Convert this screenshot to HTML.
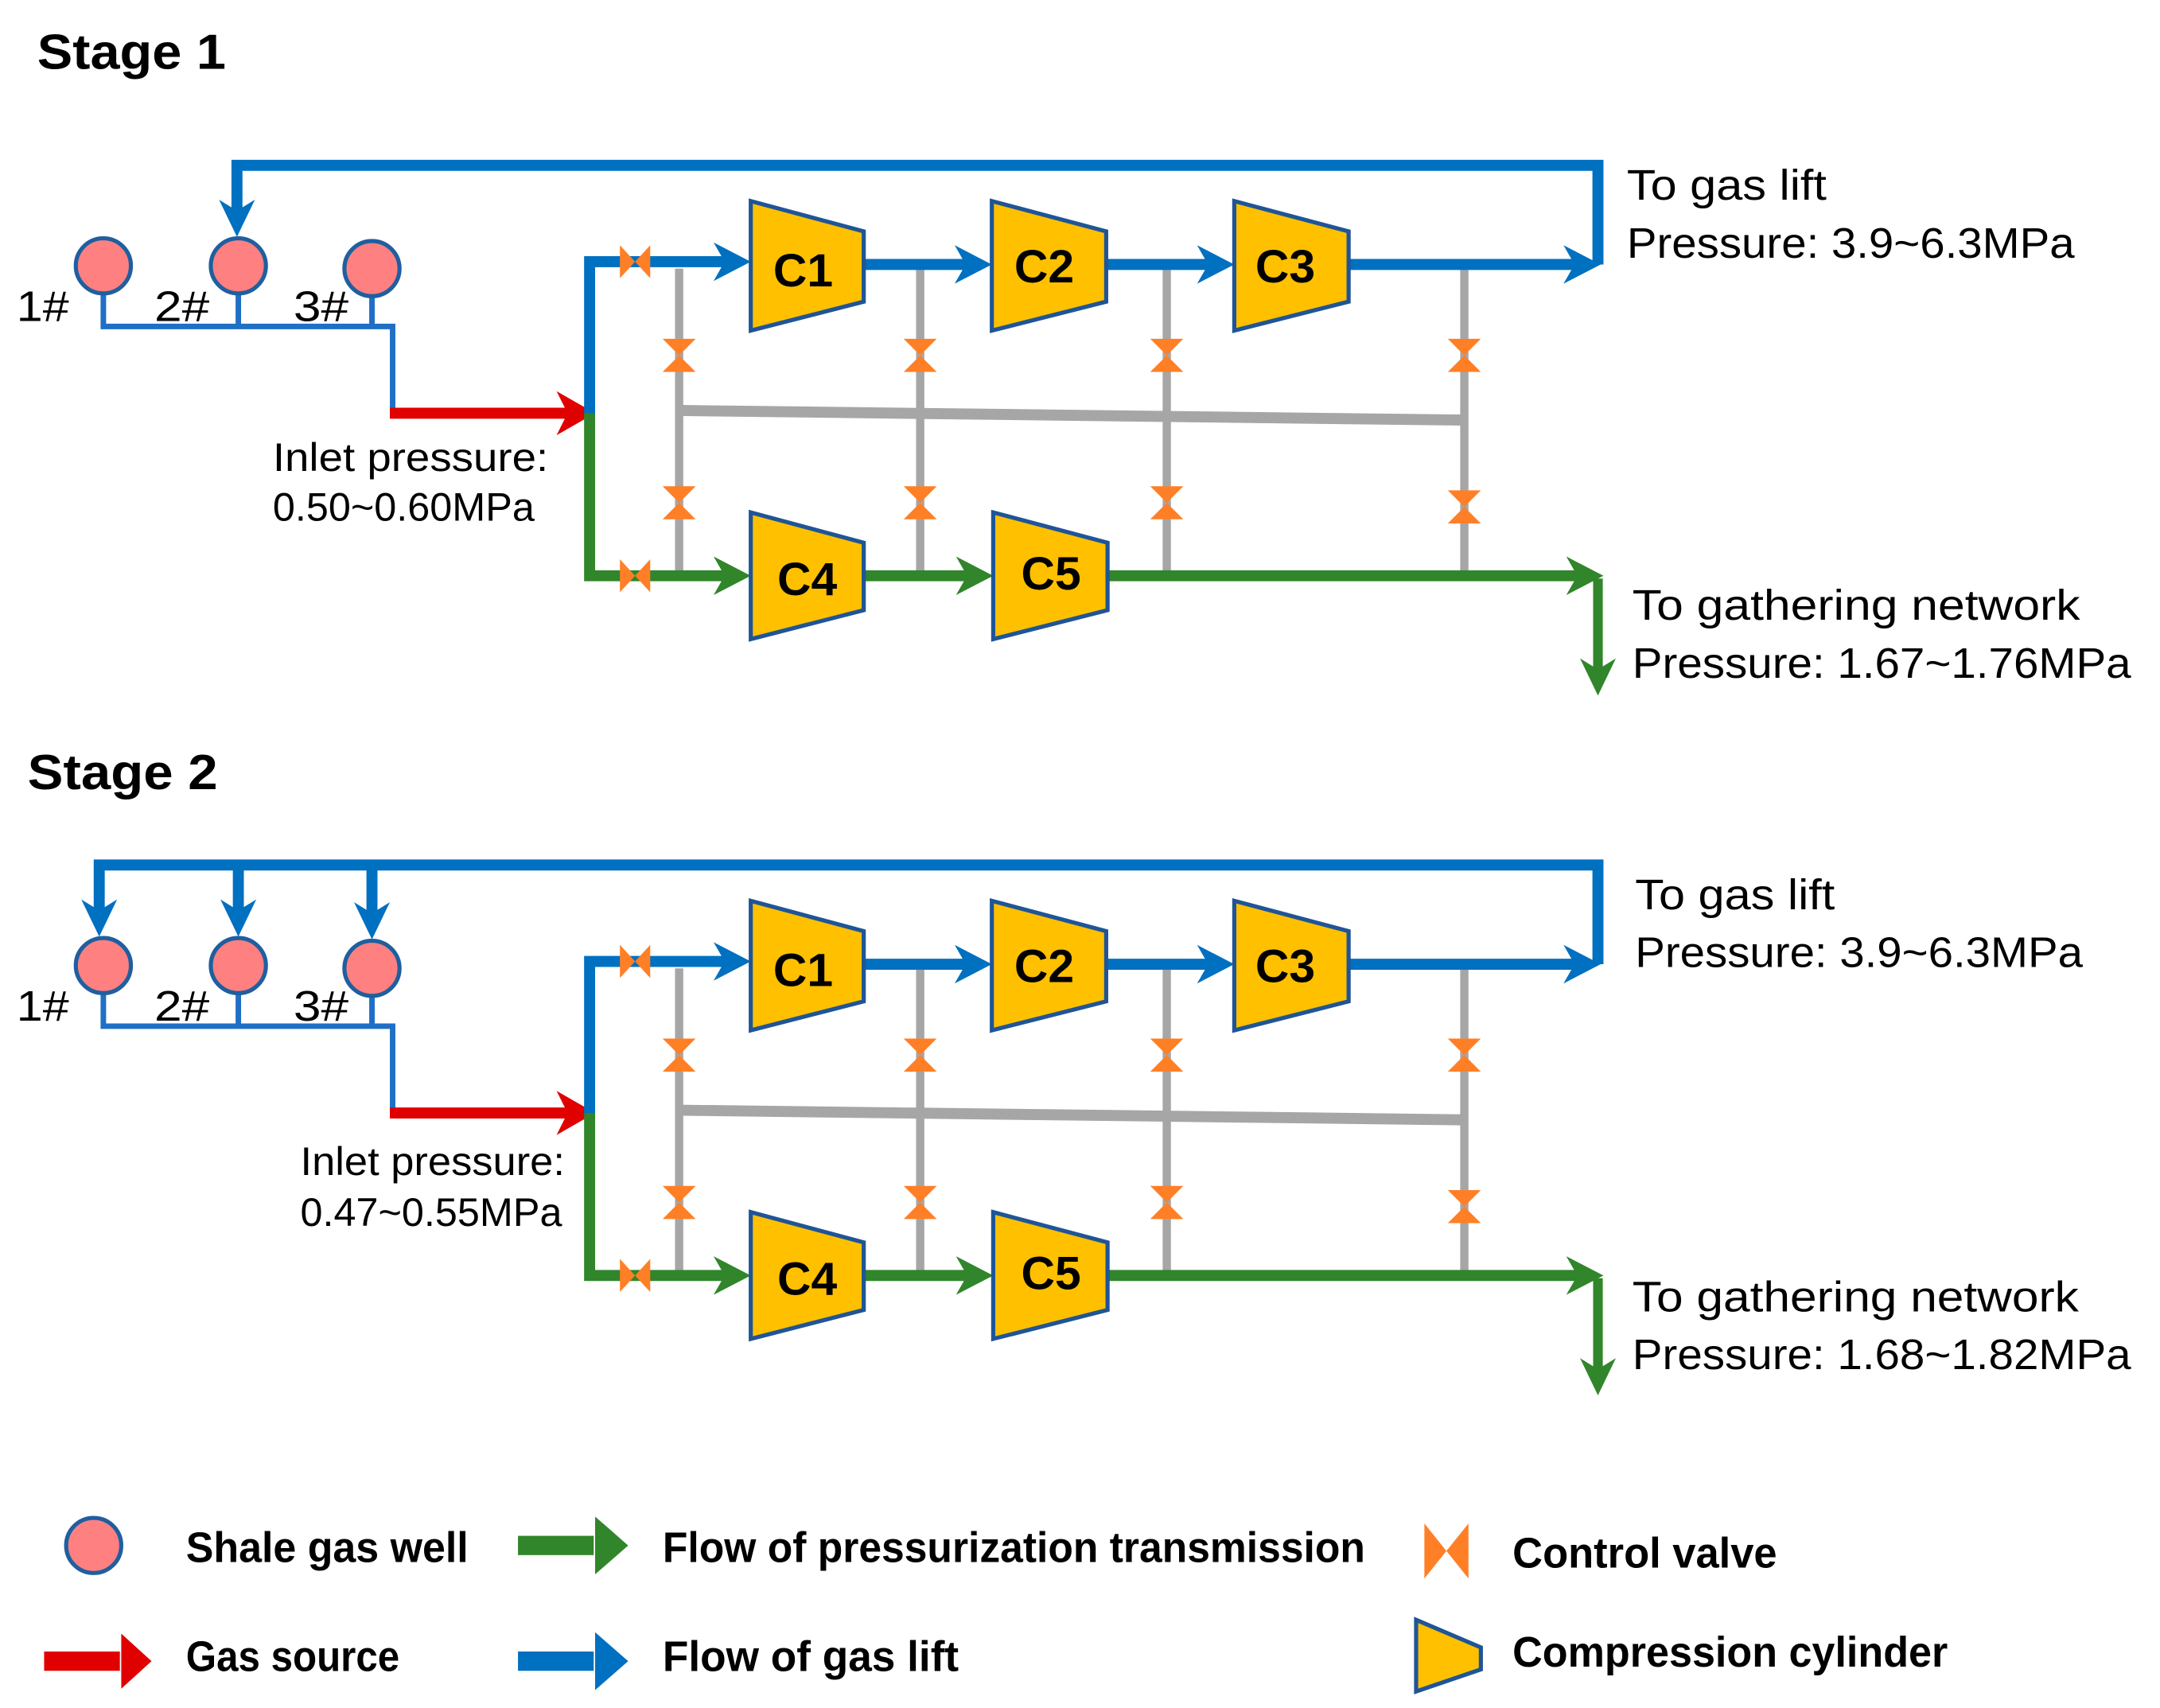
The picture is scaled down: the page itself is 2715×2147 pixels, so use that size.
<!DOCTYPE html>
<html><head><meta charset="utf-8"><style>
html,body{margin:0;padding:0;background:#fff}
svg{display:block}
text{font-family:"Liberation Sans",sans-serif;fill:#000}
.t{font-size:31px}
.lg{font-size:31px;font-weight:bold}
.c{font-size:34px;font-weight:bold;text-anchor:middle}
</style></head><body>
<svg width="2715" height="2147" viewBox="0 0 1568 1240" xmlns="http://www.w3.org/2000/svg">
<defs>
<g id="valveH"><path d="M-11,-12 L0,0 L-11,12 Z M11,-12 L0,0 L11,12 Z" fill="#FF7F27"/></g>
<g id="valveV"><path d="M-12,-12 L0,0 L12,-12 Z M-12,12 L0,0 L12,12 Z" fill="#FF7F27"/></g>
<g id="stage">
  <g stroke="#A6A6A6" stroke-width="6" fill="none">
    <line x1="493" y1="195" x2="493" y2="418"/>
    <line x1="668" y1="195" x2="668" y2="418"/>
    <line x1="847" y1="195" x2="847" y2="418"/>
    <line x1="1063" y1="190" x2="1063" y2="420"/>
    <path d="M493,298 L1063,305" stroke-width="8"/>
  </g>
  <use href="#valveV" x="493" y="258"/><use href="#valveV" x="668" y="258"/><use href="#valveV" x="847" y="258"/><use href="#valveV" x="1063" y="258"/>
  <use href="#valveV" x="493" y="365"/><use href="#valveV" x="668" y="365"/><use href="#valveV" x="847" y="365"/><use href="#valveV" x="1063" y="368"/>
  <path d="M75,213 V237 H285 V300" stroke="#1F6FC6" stroke-width="4" fill="none"/>
  <line x1="173" y1="213" x2="173" y2="237" stroke="#1F6FC6" stroke-width="4"/>
  <line x1="270" y1="215" x2="270" y2="237" stroke="#1F6FC6" stroke-width="4"/>
  <line x1="283" y1="300" x2="412" y2="300" stroke="#E00000" stroke-width="8"/>
  <path d="M432,300 L404,284 L412,300 L404,316 Z" fill="#E00000"/>
  <path d="M428,300 V190 H528" stroke="#0070C0" stroke-width="8" fill="none"/>
  <path d="M545,190 L518,176 L526,190 L518,204 Z" fill="#0070C0"/>
  <path d="M428,300 V418 H528" stroke="#31852A" stroke-width="8" fill="none"/>
  <path d="M545,418 L518,404 L526,418 L518,432 Z" fill="#31852A"/>
  <use href="#valveH" x="461" y="190"/><use href="#valveH" x="461" y="418"/>
  <line x1="627" y1="192" x2="703" y2="192" stroke="#0070C0" stroke-width="8"/>
  <path d="M720,192 L693,178 L701,192 L693,206 Z" fill="#0070C0"/>
  <line x1="803" y1="192" x2="879" y2="192" stroke="#0070C0" stroke-width="8"/>
  <path d="M896,192 L869,178 L877,192 L869,206 Z" fill="#0070C0"/>
  <line x1="979" y1="192" x2="1145" y2="192" stroke="#0070C0" stroke-width="8"/>
  <path d="M1162,192 L1135,178 L1143,192 L1135,206 Z" fill="#0070C0"/>
  <line x1="627" y1="418" x2="704" y2="418" stroke="#31852A" stroke-width="8"/>
  <path d="M721,418 L694,404 L702,418 L694,432 Z" fill="#31852A"/>
  <line x1="804" y1="418" x2="1147" y2="418" stroke="#31852A" stroke-width="8"/>
  <path d="M1164,418 L1137,404 L1145,418 L1137,432 Z" fill="#31852A"/>
  <line x1="1160" y1="420" x2="1160" y2="488" stroke="#31852A" stroke-width="7"/>
  <path d="M1160,505 L1147,478 L1160,486 L1173,478 Z" fill="#31852A"/>
  <g fill="#FFC000" stroke="#1F5597" stroke-width="3">
    <path d="M545,146 L627,168 L627,219 L545,240 Z"/>
    <path d="M720,146 L803,168 L803,219 L720,240 Z"/>
    <path d="M896,146 L979,168 L979,219 L896,240 Z"/>
    <path d="M545,372 L627,394 L627,443 L545,464 Z"/>
    <path d="M721,372 L804,394 L804,443 L721,464 Z"/>
  </g>
  <text class="c" x="583" y="208">C1</text>
  <text class="c" x="758" y="205">C2</text>
  <text class="c" x="933" y="205">C3</text>
  <text class="c" x="586" y="432">C4</text>
  <text class="c" x="763" y="428">C5</text>
  <g fill="#FF8080" stroke="#1F5F9F" stroke-width="3">
    <circle cx="75" cy="193" r="20"/><circle cx="173" cy="193" r="20"/><circle cx="270" cy="195" r="20"/>
  </g>
  <text class="t" x="12" y="233" textLength="38" lengthAdjust="spacingAndGlyphs">1#</text>
  <text class="t" x="112" y="233" textLength="40" lengthAdjust="spacingAndGlyphs">2#</text>
  <text class="t" x="213" y="233" textLength="40" lengthAdjust="spacingAndGlyphs">3#</text>
</g>
</defs>

<text x="27" y="50" style="font-size:36px;font-weight:bold" textLength="137" lengthAdjust="spacingAndGlyphs">Stage 1</text>
<use href="#stage"/>
<path d="M172,155 V120 H1160 V192" stroke="#0070C0" stroke-width="8" fill="none"/>
<path d="M172,172 L159,145 L172,153 L185,145 Z" fill="#0070C0"/>
<text class="t" x="198" y="342" style="font-size:29px" textLength="200" lengthAdjust="spacingAndGlyphs">Inlet pressure:</text>
<text class="t" x="198" y="378" style="font-size:29px" textLength="190" lengthAdjust="spacingAndGlyphs">0.50~0.60MPa</text>
<text class="t" x="1181" y="145" textLength="145" lengthAdjust="spacingAndGlyphs">To gas lift</text>
<text class="t" x="1181" y="187" textLength="325" lengthAdjust="spacingAndGlyphs">Pressure: 3.9~6.3MPa</text>
<text class="t" x="1185" y="450" textLength="325" lengthAdjust="spacingAndGlyphs">To gathering network</text>
<text class="t" x="1185" y="492" textLength="362" lengthAdjust="spacingAndGlyphs">Pressure: 1.67~1.76MPa</text>

<text x="20" y="573" style="font-size:36px;font-weight:bold" textLength="138" lengthAdjust="spacingAndGlyphs">Stage 2</text>
<g transform="translate(0,508)"><use href="#stage"/></g>
<path d="M72,665 V628 H1160 V700" stroke="#0070C0" stroke-width="8" fill="none"/>
<line x1="173" y1="628" x2="173" y2="663" stroke="#0070C0" stroke-width="8"/>
<line x1="270" y1="628" x2="270" y2="665" stroke="#0070C0" stroke-width="8"/>
<path d="M72,680 L59,653 L72,661 L85,653 Z" fill="#0070C0"/>
<path d="M173,680 L160,653 L173,661 L186,653 Z" fill="#0070C0"/>
<path d="M270,682 L257,655 L270,663 L283,655 Z" fill="#0070C0"/>
<text class="t" x="218" y="853" style="font-size:29px" textLength="192" lengthAdjust="spacingAndGlyphs">Inlet pressure:</text>
<text class="t" x="218" y="890" style="font-size:29px" textLength="190" lengthAdjust="spacingAndGlyphs">0.47~0.55MPa</text>
<text class="t" x="1187" y="660" textLength="145" lengthAdjust="spacingAndGlyphs">To gas lift</text>
<text class="t" x="1187" y="702" textLength="325" lengthAdjust="spacingAndGlyphs">Pressure: 3.9~6.3MPa</text>
<text class="t" x="1185" y="952" textLength="324" lengthAdjust="spacingAndGlyphs">To gathering network</text>
<text class="t" x="1185" y="994" textLength="362" lengthAdjust="spacingAndGlyphs">Pressure: 1.68~1.82MPa</text>

<circle cx="68" cy="1122" r="20" fill="#FF8080" stroke="#1F5F9F" stroke-width="3"/>
<text class="lg" x="135" y="1134" textLength="205" lengthAdjust="spacingAndGlyphs">Shale gas well</text>
<rect x="32" y="1199" width="55" height="14" fill="#E00000"/>
<path d="M110,1206 L88,1186 L88,1226 Z" fill="#E00000"/>
<text class="lg" x="135" y="1213" textLength="155" lengthAdjust="spacingAndGlyphs">Gas source</text>
<rect x="376" y="1115" width="55" height="14" fill="#31852A"/>
<path d="M456,1122 L432,1101 L432,1143 Z" fill="#31852A"/>
<text class="lg" x="481" y="1134" textLength="510" lengthAdjust="spacingAndGlyphs">Flow of pressurization transmission</text>
<rect x="376" y="1199" width="55" height="14" fill="#0070C0"/>
<path d="M456,1206 L432,1185 L432,1227 Z" fill="#0070C0"/>
<text class="lg" x="481" y="1213" textLength="215" lengthAdjust="spacingAndGlyphs">Flow of gas lift</text>
<path d="M1034,1106 L1050,1126 L1034,1146 Z M1066,1106 L1050,1126 L1066,1146 Z" fill="#FF7F27"/>
<text class="lg" x="1098" y="1138" textLength="192" lengthAdjust="spacingAndGlyphs">Control valve</text>
<path d="M1028,1176 L1075,1196 L1075,1212 L1028,1228 Z" fill="#FFC000" stroke="#1F5597" stroke-width="3"/>
<text class="lg" x="1098" y="1210" textLength="316" lengthAdjust="spacingAndGlyphs">Compression cylinder</text>
</svg>
</body></html>
